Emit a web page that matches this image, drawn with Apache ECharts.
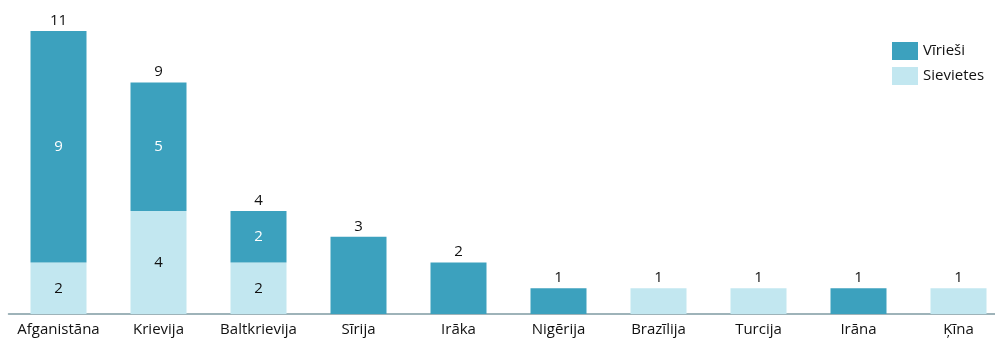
<!DOCTYPE html>
<html><head><meta charset="utf-8">
<script src="https://cdn.jsdelivr.net/npm/echarts@6/dist/echarts.min.js"></script>
<style>html,body{margin:0;padding:0;background:#fff}#c{width:995px;height:338px}</style>
</head><body><div id="c"></div>
<script>
const categories = ['Afganistāna','Krievija','Baltkrievija','Sīrija','Irāka','Nigērija','Brazīlija','Turcija','Irāna','Ķīna'];
const men = [9,5,2,3,2,1,0,0,1,0];
const women = [2,4,2,0,0,0,1,1,0,1];
const totals = [11,9,4,3,2,1,1,1,1,1];

const FONT = 'Open Sans';
const darkC = '#3CA1BE', lightC = '#C2E7F0';
function both(i){ return men[i] > 0 && women[i] > 0; }

const chart = echarts.init(document.getElementById('c'));
chart.setOption({
  animation:false,
  textStyle:{fontFamily:FONT},
  grid:{left:8.5, width:1000, top:31, bottom:24, outerBoundsMode:'none'},
  legend:{
    data:['Vīrieši','Sievietes'], orient:'vertical', left:887, top:37, icon:'rect',
    itemWidth:26, itemHeight:18, itemGap:7,
    textStyle:{fontFamily:FONT, fontSize:15, color:'#111'}
  },
  xAxis:{type:'category', data:categories,
    axisLine:{lineStyle:{color:'#7f9aa3', width:1.5}}, axisTick:{show:false},
    axisLabel:{fontFamily:FONT, fontSize:15, color:'#111', margin:8, interval:0}},
  yAxis:{type:'value', min:0, max:11, show:false, splitLine:{show:false}},
  series:[
    {name:'Sievietes', type:'bar', stack:'a', barWidth:56, itemStyle:{color:lightC},
      data: women.map((v,i)=>({value:v, label:{show: both(i), position:'inside', color:'#111', fontSize:15, fontFamily:FONT}}))},
    {name:'Vīrieši', type:'bar', stack:'a', barWidth:56, itemStyle:{color:darkC},
      data: men.map((v,i)=>({value:v, label:{show: both(i), position:'inside', color:'#fff', fontSize:15, fontFamily:FONT}}))},
    {name:'total', type:'bar', barWidth:56, barGap:'-100%', z:0, itemStyle:{color:'rgba(0,0,0,0)'},
      label:{show:true, position:'top', distance:3, color:'#111', fontSize:15, fontFamily:FONT},
      data: totals}
  ]
});
</script></body></html>
